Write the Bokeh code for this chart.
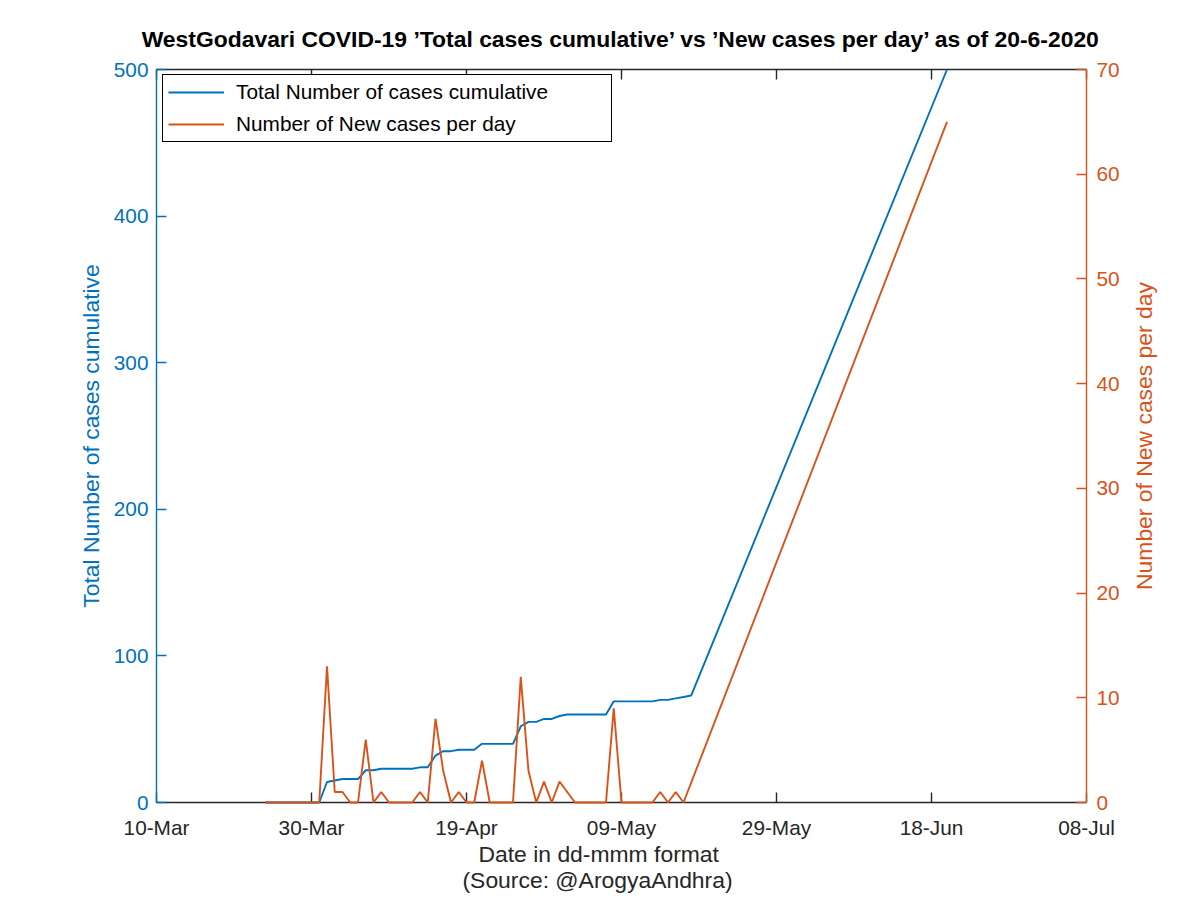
import math
import pandas as pd
from bokeh.plotting import figure
from bokeh.models import (Range1d, LinearAxis, DatetimeAxis, FixedTicker, DatetimeTickFormatter,
                          Legend, LegendItem, Title, Label, ColumnDataSource, CustomJSTickFormatter)
from bokeh.embed import file_html
from bokeh.resources import INLINE

# ---------------- data ----------------
new_dates = list(pd.date_range("2020-03-24", "2020-05-17")) + [pd.Timestamp("2020-06-20")]
new_cases = [0, 0, 0, 0, 0, 0, 0, 0,          # 24-31 Mar
             13, 1, 1, 0, 0, 6, 0, 1, 0, 0,   # 01-10 Apr
             0, 0, 1, 0, 8, 3, 0, 1, 0, 0,    # 11-20 Apr
             4, 0, 0, 0, 0, 12, 3, 0, 2, 0,   # 21-30 Apr
             2, 1, 0, 0, 0, 0, 0, 9, 0, 0,    # 01-10 May
             0, 0, 0, 1, 0, 1, 0,             # 11-17 May
             65]                              # 20 Jun

cum_dates = list(pd.date_range("2020-03-24", "2020-05-18")) + [pd.Timestamp("2020-06-20")]
cum_cases = [0, 0, 0, 0, 0, 0, 0, 0,               # 24-31 Mar
             14, 15, 16, 16, 16, 22, 22, 23, 23, 23,  # 01-10 Apr
             23, 23, 24, 24, 32, 35, 35, 36, 36, 36,  # 11-20 Apr
             40, 40, 40, 40, 40, 52, 55, 55, 57, 57,  # 21-30 Apr
             59, 60, 60, 60, 60, 60, 60, 69, 69, 69,  # 01-10 May
             69, 69, 69, 70, 70, 71, 72, 73,          # 11-18 May
             500]                                     # 20 Jun

x_tick_dates = ["2020-03-10", "2020-03-30", "2020-04-19", "2020-05-09",
                "2020-05-29", "2020-06-18", "2020-07-08"]
left_ticks = [0, 100, 200, 300, 400, 500]
right_ticks = [0, 10, 20, 30, 40, 50, 60, 70]

title_text = "WestGodavari COVID-19 \u2019Total cases cumulative\u2019 vs \u2019New cases per day\u2019 as of 20-6-2020"
xlabel1 = "Date in dd-mmm format"
xlabel2 = "(Source: @ArogyaAndhra)"
ylabel_left = "Total Number of cases cumulative"
ylabel_right = "Number of New cases per day"
legend_labels = ["Total Number of cases cumulative", "Number of New cases per day"]

BLUE = "#0072BD"
ORANGE = "#D95319"
DARK = "#262626"
FONT = "Liberation Sans"

# ---------------- figure ----------------
ML, MR, MT, MB = 156, 114, 69, 96
W, H = 1200, 898
FW, FH = W - ML - MR, H - MT - MB

x0 = pd.Timestamp(x_tick_dates[0])
x1 = pd.Timestamp(x_tick_dates[-1])

p = figure(width=W, height=H, output_backend="svg", toolbar_location=None,
           x_axis_type="datetime", x_range=Range1d(x0, x1), y_range=Range1d(0, 500),
           min_border_left=ML, min_border_right=MR, min_border_top=MT, min_border_bottom=MB,
           background_fill_color="white", border_fill_color="white", outline_line_color=None)
p.extra_y_ranges = {"right": Range1d(0, 70)}
p.xgrid.visible = False
p.ygrid.visible = False

tick_ms = [pd.Timestamp(d).value / 1e6 for d in x_tick_dates]
fmt = DatetimeTickFormatter(days="%d-%b", months="%d-%b", years="%d-%b",
                            hours="%d-%b", minutes="%d-%b", seconds="%d-%b",
                            milliseconds="%d-%b", microseconds="%d-%b", hourmin="%d-%b",
                            minsec="%d-%b")
fmt.context = None

def style_axis(ax, color, label_color):
    ax.axis_line_color = color
    ax.axis_line_width = 1.4
    ax.major_tick_line_color = color
    ax.major_tick_line_width = 1.4
    ax.major_tick_in = 10
    ax.major_tick_out = 0
    ax.minor_tick_line_color = None
    ax.major_label_text_color = label_color
    ax.major_label_text_font = FONT
    ax.major_label_text_font_size = "20.8px"
    ax.axis_label_text_font = FONT
    ax.axis_label_text_font_size = "22.9px"
    ax.axis_label_text_font_style = "normal"
    ax.axis_label_text_color = label_color

xa = p.xaxis[0]
xa.ticker = FixedTicker(ticks=tick_ms)
xa.formatter = fmt
style_axis(xa, DARK, DARK)
xa.major_label_standoff = 13

ya = p.yaxis[0]
ya.ticker = FixedTicker(ticks=left_ticks)
style_axis(ya, BLUE, BLUE)
ya.major_label_standoff = 8
ya.axis_label = ylabel_left
ya.axis_label_standoff = 7

ra = LinearAxis(y_range_name="right", ticker=FixedTicker(ticks=right_ticks))
style_axis(ra, ORANGE, ORANGE)
ra.major_label_standoff = 10
p.add_layout(ra, "right")

# right axis title, reading bottom-to-top, placed in the right side panel
rlab = Label(x=21, y=802 - 435.5, x_units="screen", y_units="screen", text=ylabel_right,
             text_font=FONT, text_font_size="22.9px", text_color=ORANGE,
             text_align="center", text_baseline="middle", angle=math.pi / 2)
p.add_layout(rlab, "right")

ta = DatetimeAxis(ticker=FixedTicker(ticks=tick_ms),
                  formatter=CustomJSTickFormatter(code="return ''"))
style_axis(ta, DARK, DARK)
ta.major_label_standoff = 0
p.add_layout(ta, "above")

# title
p.title.text = title_text
p.title.align = "center"
p.title.text_font = FONT
p.title.text_font_size = "22.9px"
p.title.text_font_style = "bold"
p.title.text_color = "black"
p.title.standoff = 36

# bottom labels
t1 = Title(text=xlabel1, align="left", offset=322, text_font=FONT, text_font_size="22.9px",
           text_font_style="normal", text_color=DARK, standoff=-4, vertical_align="middle")
t2 = Title(text=xlabel2, align="left", offset=306, text_font=FONT, text_font_size="22.9px",
           text_font_style="normal", text_color=DARK, standoff=0, vertical_align="middle")
p.add_layout(t1, "below")
p.add_layout(t2, "below")

# ---------------- lines ----------------
src_cum = ColumnDataSource(dict(x=cum_dates, y=cum_cases))
src_new = ColumnDataSource(dict(x=new_dates, y=new_cases))
r_cum = p.line("x", "y", source=src_cum, line_color=BLUE, line_width=1.9, level="overlay")
r_new = p.line("x", "y", source=src_new, line_color=ORANGE, line_width=1.9,
               y_range_name="right", level="overlay")

# ---------------- legend ----------------
legend = Legend(items=[LegendItem(label=legend_labels[0], renderers=[r_cum]),
                       LegendItem(label=legend_labels[1], renderers=[r_new])],
                location=(6, FH - 73))
legend.glyph_width = 56
legend.glyph_height = 22
legend.label_height = 22
legend.label_width = 370
legend.label_standoff = 12
legend.spacing = 8
legend.padding = 5
legend.margin = 0
legend.label_text_font = FONT
legend.label_text_font_size = "20.8px"
legend.label_text_color = "black"
legend.border_line_color = "black"
legend.border_line_alpha = 1.0
legend.border_line_width = 1.4
legend.background_fill_color = "white"
legend.background_fill_alpha = 1.0
p.add_layout(legend)

open("out.html", "w").write(file_html(p, INLINE))
